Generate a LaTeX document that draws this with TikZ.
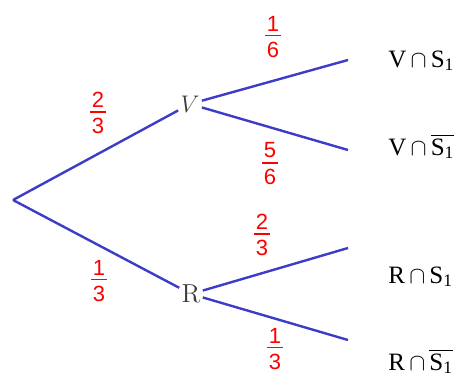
\documentclass[tikz,border=0pt]{standalone}
\usepackage{amsmath}
\usepackage{fontspec}
\usepackage{tikz}
\newfontfamily\fracfont{Liberation Sans}
\newfontfamily\eventfont{Liberation Serif}
\definecolor{branchblue}{RGB}{60,60,200}
\definecolor{nodegray}{RGB}{60,60,60}
\newcommand{\pr}[2]{\vbox{\fracfont\halign{\hskip1pt\hfil##\hfil\hskip1pt\cr #1\cr
  \noalign{\kern1.8pt\hrule height 0.9pt\kern3pt}#2\cr}}}
\newcommand{\sone}{S\textsubscript{1}}
\newcommand{\nsone}{$\overline{\hbox{\sone}}$}

\begin{document}
\begin{tikzpicture}[x=0.5pt, y=-0.5pt,
  branch/.style={draw=branchblue, line width=1.2pt},
  prob/.style={red, font=\fontsize{11}{13}\selectfont, inner sep=0pt},
  event/.style={text=nodegray, font=\fontsize{13}{15}\selectfont, inner sep=1pt},
  leaf/.style={anchor=base west, inner sep=0pt, font=\fontsize{12.5}{14}\selectfont\eventfont}]
  \useasboundingbox (0,0) rectangle (470,380);
  \coordinate (root) at (13,200);
  \node[event] (V) at (190,104) {$V$};
  \node[event] (R) at (191,294) {R};
  \coordinate (vs) at (348,60);
  \coordinate (vn) at (348,150);
  \coordinate (rs) at (348,248);
  \coordinate (rn) at (348,340);
  \node[leaf] (lvs) at (388,67) {V\,$\cap$\,\sone};
  \node[leaf] (lvn) at (388,155) {V\,$\cap$\,\nsone};
  \node[leaf] (lrs) at (388,283) {R\,$\cap$\,\sone};
  \node[leaf] (lrn) at (388,370) {R\,$\cap$\,\nsone};
  \draw[branch] (root) -- (V);
  \draw[branch] (root) -- (R);
  \draw[branch] (V) -- (vs);
  \draw[branch] (V) -- (vn);
  \draw[branch] (R) -- (rs);
  \draw[branch] (R) -- (rn);
  \node[prob] (pv) at (98,113) {\pr{2}{3}};
  \node[prob] (pr) at (99,281) {\pr{1}{3}};
  \node[prob] (pvs) at (273,37) {\pr{1}{6}};
  \node[prob] (pvn) at (270,164) {\pr{5}{6}};
  \node[prob] (prs) at (262,235) {\pr{2}{3}};
  \node[prob] (prn) at (275,349) {\pr{1}{3}};
\end{tikzpicture}
\end{document}
